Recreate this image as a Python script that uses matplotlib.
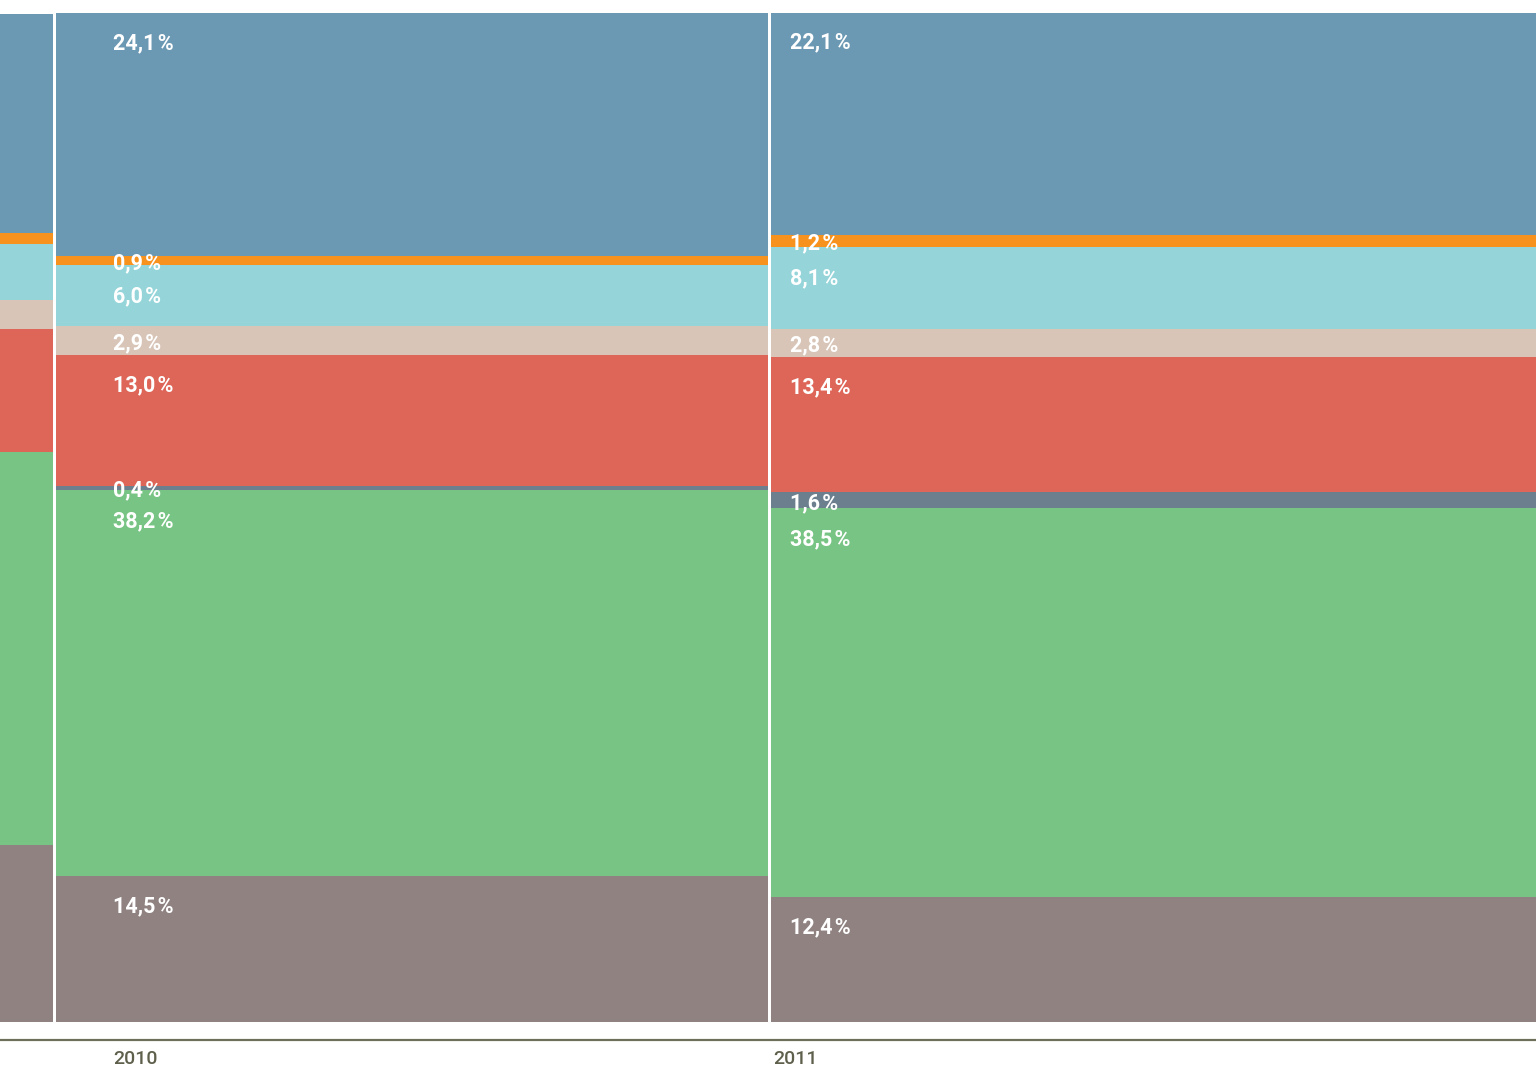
import matplotlib
matplotlib.use("Agg")
import matplotlib.pyplot as plt
from matplotlib.lines import Line2D

years = ["2009", "2010", "2011"]
show_year = [False, True, True]
# stacked from bottom to top
series_names = ["gray", "green", "slate", "red", "beige", "cyan", "orange", "blue"]
colors = ["#8f8281", "#78c484", "#6b7f8f", "#de6658", "#d8c5b8", "#95d5da", "#f7921e", "#6b98b3"]
values = {
    "2009": [17.5, 39.0, 0.0, 12.2, 2.9, 5.5, 1.1, 21.7],
    "2010": [14.5, 38.2, 0.4, 13.0, 2.9, 6.0, 0.9, 24.1],
    "2011": [12.4, 38.5, 1.6, 13.4, 2.8, 8.1, 1.2, 22.1],
}
labels = {
    "2010": ["14,5", "38,2", "0,4", "13,0", "2,9", "6,0", "0,9", "24,1"],
    "2011": ["12,4", "38,5", "1,6", "13,4", "2,8", "8,1", "1,2", "22,1"],
}

W, H = 1536, 1067
fig = plt.figure(figsize=(W / 100, H / 100), dpi=100)
ax = fig.add_axes([0, (H - 1022) / H, 1, 1009 / H])

pitch = 715.0  # px per bar unit
gap = 3.0 / pitch
x_left_px = 56.0
xmin = 1 - x_left_px / pitch
xmax = 1 + (W - x_left_px) / pitch
ax.set_xlim(xmin, xmax)
ax.set_ylim(0, 100)

label_off = {"2010": (113 - 56) / pitch, "2011": (790 - 771) / pitch}
year_off = {"2010": (113 - 56) / pitch, "2011": (773 - 771) / pitch}

for i, yr in enumerate(years):
    left = i
    width = 1 - gap if i < len(years) - 1 else (xmax - left + 0.1)
    bottom = 0.0
    for j, v in enumerate(values[yr]):
        if v > 0:
            ax.bar(left, v, width=width, bottom=bottom, align="edge",
                   color=colors[j], linewidth=0)
        top = bottom + v
        if yr in labels:
            ytxt = top - min(2.8, v / 2) - 0.25
            ax.text(left + label_off[yr], min(ytxt, 100 - 2.75), labels[yr][j] + "\u200a%",
                    color="white", fontsize=15.5, fontweight="bold",
                    family=["Roboto", "DejaVu Sans"], ha="left", va="center")
        bottom = top
    if show_year[i]:
        xpx = (left + year_off[yr] - xmin) / (xmax - xmin)
        fig.text(xpx, (H - 1059) / H, yr, color="#5f604c", fontsize=14,
                 fontweight="medium",
                 family=["Roboto", "DejaVu Sans"], ha="left", va="center")

ax.axis("off")
fig.add_artist(Line2D([0, 1], [(H - 1040) / H] * 2, transform=fig.transFigure,
                      color="#6e6f5a", linewidth=1.6))

fig.savefig("out.png", dpi=100)
